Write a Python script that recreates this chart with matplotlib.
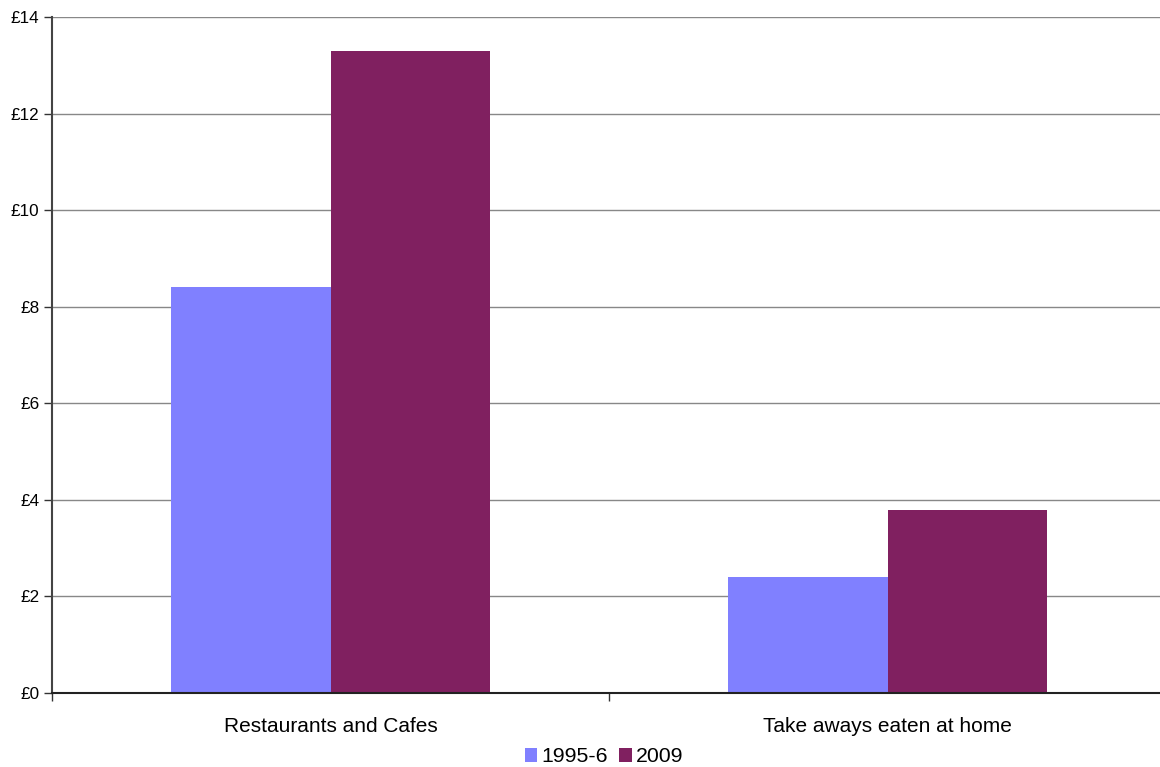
import numpy as np
import matplotlib
matplotlib.use('Agg')
import matplotlib.pyplot as plt
from matplotlib.ticker import FuncFormatter

plt.rcParams['font.family'] = ['Liberation Sans', 'DejaVu Sans']

categories = ['Restaurants and Cafes', 'Take aways eaten at home']
series_names = ['1995-6', '2009']
spend_1995 = [8.4, 2.4]
spend_2009 = [13.3, 3.8]
colors = ['#8080ff', '#802060']

W, H = 1160, 767
fig = plt.figure(figsize=(W / 100, H / 100), dpi=100)
# plot area runs slightly past the right edge of the canvas
ax = fig.add_axes([52 / W, (H - 693) / H, (1166 - 52) / W, (693 - 17) / H])

x = np.arange(len(categories))
width = 0.286
ax.bar(x - width / 2, spend_1995, width, color=colors[0], label=series_names[0], zorder=2)
ax.bar(x + width / 2, spend_2009, width, color=colors[1], label=series_names[1], zorder=2)

ax.set_xlim(-0.5, len(categories) - 0.5)
ax.set_ylim(0, 14)
ax.set_yticks(np.arange(0, 15, 2))
ax.yaxis.set_major_formatter(FuncFormatter(lambda v, p: '£%d' % v))
ax.yaxis.grid(True, color='#888888', linewidth=1, zorder=0)
ax.set_axisbelow(True)

# category labels centered, tick marks on category boundaries
ax.set_xticks(x)
ax.set_xticklabels(categories, fontsize=15)
ax.tick_params(axis='x', length=0, pad=17)
ax.set_xticks(np.arange(-0.5, len(categories)), minor=True)
ax.tick_params(axis='x', which='minor', length=6, width=1, color='#333333')
ax.tick_params(axis='y', labelsize=12.3, length=6, width=1, color='#333333', pad=3)

for s in ['top', 'right']:
    ax.spines[s].set_visible(False)
ax.spines['left'].set_color('#444444')
ax.spines['left'].set_linewidth(1.5)
ax.spines['bottom'].set_color('#222222')
ax.spines['bottom'].set_linewidth(1.5)

fig.legend(loc='center', bbox_to_anchor=(604 / W, 1 - 757 / H), ncol=2, frameon=False,
           fontsize=15.3, handlelength=0.6, handleheight=0.6, handletextpad=0.2,
           columnspacing=0.5, borderaxespad=0)

fig.savefig('out.png', dpi=100)
